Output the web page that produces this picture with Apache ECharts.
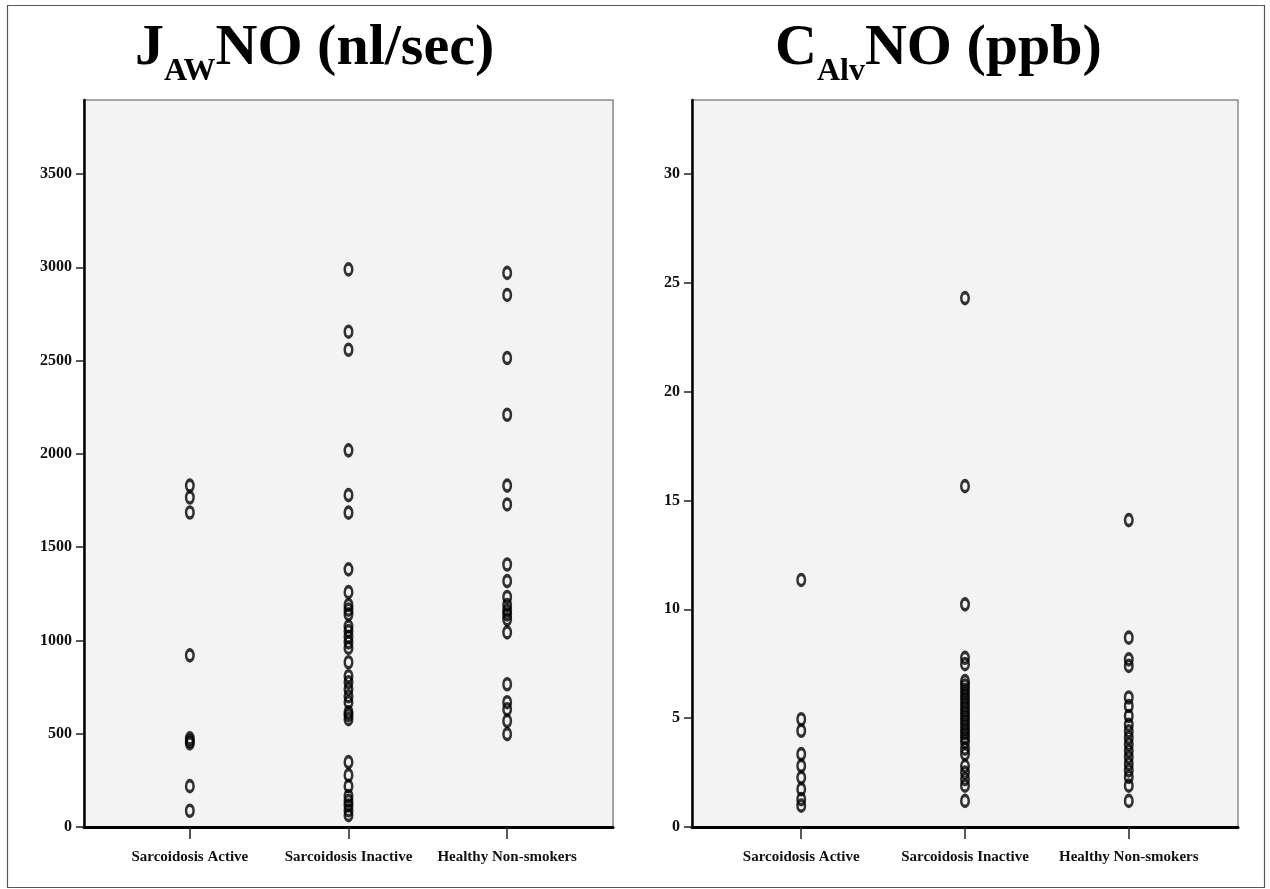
<!DOCTYPE html>
<html>
<head>
<meta charset="utf-8">
<script src="https://cdn.jsdelivr.net/npm/echarts@6/dist/echarts.min.js"></script>
<style>
html,body{margin:0;padding:0;background:#fff;}
#chart{width:1270px;height:889px;}
</style>
</head>
<body>
<div id="chart"></div>
<script>
// ---- data ----
const categories = ['Sarcoidosis Active', 'Sarcoidosis Inactive', 'Healthy Non-smokers'];

// JAWNO (nl/sec)
const jawActive = [1830, 1766, 1686, 920, 475, 460, 448, 219, 87];
const jawInactive = [2989, 2655, 2558, 2019, 1779, 1685, 1381, 1259, 1190, 1165, 1140, 1075, 1050, 1020, 990, 960, 883, 808, 776, 739, 701, 669, 615, 600, 578, 348, 278, 219, 166, 140, 115, 90, 64];
const jawHealthy = [2970, 2852, 2514, 2210, 1830, 1729, 1407, 1318, 1233, 1190, 1160, 1140, 1113, 1043, 765, 669, 631, 568, 498];

// CAlvNO (ppb)
const calvActive = [11.35, 4.95, 4.42, 3.35, 2.81, 2.27, 1.74, 1.28, 0.98];
const calvInactive = [24.3, 15.66, 10.23, 7.77, 7.48, 6.7, 6.5, 6.3, 6.1, 5.9, 5.7, 5.5, 5.3, 5.1, 4.9, 4.7, 4.5, 4.3, 4.1, 3.9, 3.6, 3.35, 2.8, 2.5, 2.2, 1.9, 1.2];
const calvHealthy = [14.1, 8.7, 7.7, 7.4, 5.95, 5.56, 5.1, 4.7, 4.4, 4.1, 3.8, 3.5, 3.2, 2.9, 2.6, 2.3, 1.9, 1.2];

const jawTicks = [0, 500, 1000, 1500, 2000, 2500, 3000, 3500];
const calvTicks = [0, 5, 10, 15, 20, 25, 30];
const catTicks = [0, 1, 2];

// ---- build ----
function toPoints(groups) {
  const out = [];
  groups.forEach((g, i) => g.forEach(v => out.push([i, v])));
  return out;
}

const serif = '"Liberation Serif", "DejaVu Serif", serif';

function xAxis(gridIndex) {
  return {
    type: 'value', gridIndex: gridIndex, min: -0.667, max: 2.667,
    splitLine: { show: false },
    axisLine: { show: true, onZero: false, lineStyle: { color: '#000', width: 3 } },
    axisTick: { show: true, customValues: catTicks, length: 12, lineStyle: { color: '#222', width: 1.5 } },
    axisLabel: {
      customValues: catTicks, margin: 23,
      formatter: v => categories[Math.round(v)] || '',
      fontFamily: serif, fontWeight: 'bold', fontSize: 15, color: '#111'
    }
  };
}
function yAxis(gridIndex, max, ticks) {
  return {
    type: 'value', gridIndex: gridIndex, min: 0, max: max,
    splitLine: { show: false },
    axisLine: { show: true, onZero: false, lineStyle: { color: '#000', width: 2.5 } },
    axisTick: { show: true, customValues: ticks, length: 8, lineStyle: { color: '#222', width: 1.5 } },
    axisLabel: {
      customValues: ticks, margin: 12,
      formatter: v => String(v),
      fontFamily: serif, fontWeight: 'bold', fontSize: 16, color: '#111'
    }
  };
}
function scatter(idx, data) {
  return {
    type: 'scatter', xAxisIndex: idx, yAxisIndex: idx, data: data,
    symbol: 'circle', symbolSize: [7.5, 11],
    itemStyle: { color: 'rgba(0,0,0,0)', borderColor: '#000', borderWidth: 3 },
    emphasis: { disabled: true }
  };
}
function title(left, main1, sub, main2) {
  return {
    left: left, top: 20, padding: 0,
    text: '{m|' + main1 + '}{s|' + sub + '}{m|' + main2 + '}',
    textStyle: {
      rich: {
        m: { fontFamily: serif, fontWeight: 'bold', fontSize: 58, lineHeight: 58, color: '#000', verticalAlign: 'top' },
        s: { fontFamily: serif, fontWeight: 'bold', fontSize: 32, lineHeight: 32, color: '#000', verticalAlign: 'top', padding: [36, 0, 0, 0] }
      }
    }
  };
}

const chart = echarts.init(document.getElementById('chart'), null, { renderer: 'canvas' });
chart.setOption({
  animation: false,
  backgroundColor: '#fff',
  title: [ title(135, 'J', 'AW', 'NO (nl/sec)'), title(775, 'C', 'Alv', 'NO (ppb)') ],
  grid: [
    { left: 84, right: 1270 - 613, top: 100, bottom: 889 - 827, show: true, backgroundColor: '#f3f3f3', borderColor: '#8a8a8a', borderWidth: 1.5 },
    { left: 692, right: 1270 - 1238, top: 100, bottom: 889 - 827, show: true, backgroundColor: '#f3f3f3', borderColor: '#8a8a8a', borderWidth: 1.5 }
  ],
  xAxis: [ xAxis(0), xAxis(1) ],
  yAxis: [ yAxis(0, 3897, jawTicks), yAxis(1, 33.4, calvTicks) ],
  series: [
    scatter(0, toPoints([jawActive, jawInactive, jawHealthy])),
    scatter(1, toPoints([calvActive, calvInactive, calvHealthy]))
  ],
  graphic: [{
    type: 'rect', silent: true, z: 100,
    shape: { x: 7.5, y: 5.5, width: 1257, height: 882 },
    style: { fill: 'none', stroke: '#555', lineWidth: 1.2 }
  }]
});
</script>
</body>
</html>
